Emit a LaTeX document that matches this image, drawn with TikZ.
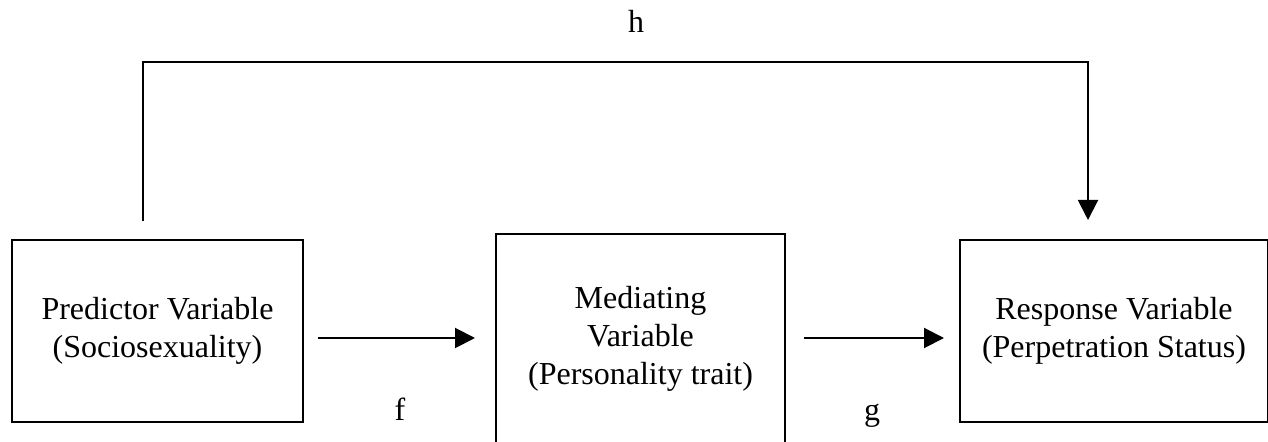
\documentclass[tikz,border=0pt]{standalone}
\usepackage{fontspec}
\setmainfont{Liberation Serif}
\usetikzlibrary{arrows.meta}
\begin{document}
\begin{tikzpicture}[x=0.5pt, y=-0.5pt, line width=1pt, font=\fontsize{16}{19}\selectfont,
        box/.style = {draw, align=center, inner sep=0pt},
        arr/.style = {-{Triangle[length=10pt, width=10pt]}},
        lbl/.style = {anchor=base, inner sep=0pt}]
        \useasboundingbox (0,0) rectangle (1268,442);
        \node[box, minimum width=145.5pt, minimum height=91pt] (pred) at (157.5,331) {Predictor Variable\\(Sociosexuality)};
        \node[box, minimum width=144.5pt, minimum height=105pt] (med) at (640.5,339) {Mediating\\Variable\\(Personality trait)};
        \node[box, minimum width=154pt, minimum height=91pt] (resp) at (1114,331) {Response Variable\\(Perpetration Status)};
        \coordinate (hcorner) at (1088,62);
        \draw[arr, shorten <=7pt, shorten >=10pt] (pred.east |- 0,338) -- (med.west |- 0,338);
        \draw[arr, shorten <=9pt, shorten >=7.5pt] (med.east |- 0,338) -- (resp.west |- 0,338);
        \draw[arr] ([xshift=-7.25pt, yshift=9pt]pred.north) |- (hcorner) -- ([yshift=9.5pt]resp.north -| hcorner);
        \node[lbl] (h) at (636,33) {h};
        \node[lbl] (f) at (400,421) {f};
        \node[lbl] (g) at (872,421) {g};
    \end{tikzpicture}
\end{document}
